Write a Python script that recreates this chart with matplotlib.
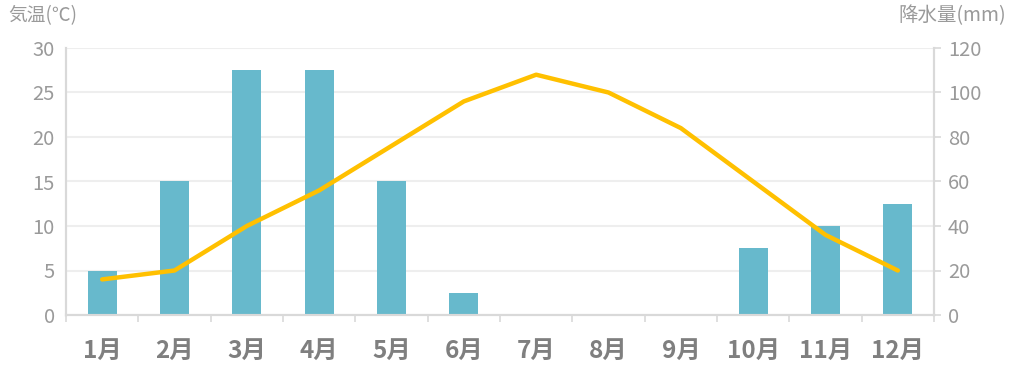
import numpy as np
import matplotlib.pyplot as plt
from matplotlib.ticker import FixedLocator

plt.rcParams['font.family'] = ['Noto Sans CJK JP', 'DejaVu Sans']

# =============================================
# DATOS
# =============================================
months = ['1月', '2月', '3月', '4月', '5月', '6月',
          '7月', '8月', '9月', '10月', '11月', '12月']
temperature = [4, 5, 10, 14, 19, 24, 27, 25, 21, 15, 9, 5]         # 気温 [℃]
precipitation = [20, 60, 110, 110, 60, 10, 0, 0, 0, 30, 40, 50]     # 降水量 [mm]

temp_ticks = [0, 5, 10, 15, 20, 25, 30]
rain_ticks = [0, 20, 40, 60, 80, 100, 120]

bar_color = '#67b9cc'
line_color = '#ffc000'
spine_color = '#d9d9d9'
label_color = '#9a9a9a'

# =============================================
# FIGURA
# =============================================
fig = plt.figure(figsize=(10.14, 3.70), dpi=100)
ax = fig.add_axes([66/1014, 55/370, (934-66)/1014, (315-48)/370])
ax2 = ax.twinx()

x = np.arange(len(months))

# barras (降水量) en el eje derecho, detrás
ax2.bar(x, precipitation, width=0.4, color=bar_color, zorder=2)
ax2.set_ylim(0, 120)
ax2.yaxis.set_major_locator(FixedLocator(rain_ticks))
ax2.grid(axis='y', color='#eeeeee', linewidth=1.5, zorder=0)
ax2.set_axisbelow(True)

# línea (気温) en el eje izquierdo, delante
ax.set_zorder(ax2.get_zorder() + 1)
ax.patch.set_visible(False)
ax.plot(x, temperature, color=line_color, linewidth=3.2,
        solid_capstyle='round', solid_joinstyle='round')
ax.set_ylim(0, 30)
ax.set_xlim(-0.5, len(months) - 0.5)
ax.yaxis.set_major_locator(FixedLocator(temp_ticks))

# ejes y marcas
for a in (ax, ax2):
    a.spines['top'].set_visible(False)
    for side in ('left', 'right', 'bottom'):
        a.spines[side].set_color(spine_color)
        a.spines[side].set_linewidth(1.5)

ax.tick_params(axis='y', length=0, pad=8, labelsize=14.5, labelcolor=label_color)
ax2.tick_params(axis='y', length=5, width=1.2, color=spine_color, pad=5,
                labelsize=14.5, labelcolor=label_color)

ax.set_xticks(x)
ax.set_xticklabels(months, fontsize=17.5, fontweight='bold', color='#7f7f7f')
ax.set_xticks(np.arange(-0.5, len(months)), minor=True)
ax.tick_params(axis='x', which='major', length=0, pad=17)
ax.tick_params(axis='x', which='minor', length=5, width=1.2, color=spine_color)

# títulos de los ejes
fig.text(8/1014, 1 - 16/370, '気温(℃)', fontsize=13.5, color=label_color,
         ha='left', va='center')
fig.text(1006/1014, 1 - 16/370, '降水量(mm)', fontsize=14, color=label_color,
         ha='right', va='center')

fig.savefig('out.png', dpi=100)
